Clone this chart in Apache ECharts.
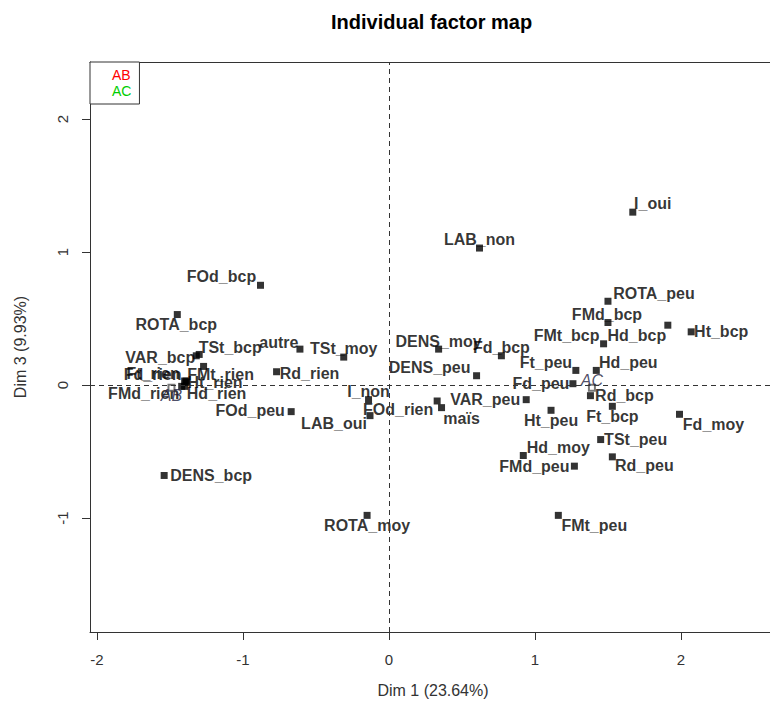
<!DOCTYPE html>
<html>
<head>
<meta charset="utf-8">
<script src="https://cdn.jsdelivr.net/npm/echarts@6/dist/echarts.min.js"></script>
<style>
  html, body { margin: 0; padding: 0; background: #fff; overflow: hidden; }
  #chart { width: 770px; height: 707px; }
</style>
</head>
<body>
<div id="chart"></div>
<script>
// ---- data ----
const categories = [
  'I_oui', 'LAB_non', 'ROTA_peu', 'FMd_bcp', 'Hd_bcp', 'FMt_bcp', 'Ht_bcp', 'Fd_bcp',
  'DENS_moy', 'DENS_peu', 'Ft_peu', 'Hd_peu', 'Fd_peu', 'Rd_bcp', 'Ft_bcp', 'Fd_moy',
  'Ht_peu', 'VAR_peu', 'TSt_peu', 'Rd_peu', 'Hd_moy', 'FMd_peu', 'FMt_peu', 'maïs',
  'FOd_rien', 'I_non', 'LAB_oui', 'FOd_peu', 'TSt_moy', 'autre', 'Rd_rien', 'ROTA_bcp',
  'FOd_bcp', 'DENS_bcp', 'ROTA_moy', 'VAR_bcp', 'TSt_bcp', 'FMt_rien', 'Ht_rien',
  'Fd_rien', 'Ft_rien', 'Hd_rien', 'FMd_rien'
];
const dim1 = [
  1.67, 0.62, 1.50, 1.50, 1.91, 1.47, 2.07, 0.77,
  0.34, 0.60, 1.28, 1.42, 1.26, 1.38, 1.53, 1.99,
  1.11, 0.94, 1.45, 1.53, 0.92, 1.27, 1.16, 0.36,
  0.33, -0.14, -0.13, -0.67, -0.31, -0.61, -0.77, -1.45,
  -0.88, -1.54, -0.15, -1.32, -1.30, -1.27, -1.39,
  -1.40, -1.39, -1.40, -1.42
];
const dim3 = [
  1.30, 1.03, 0.63, 0.47, 0.45, 0.31, 0.40, 0.22,
  0.27, 0.07, 0.11, 0.11, 0.01, -0.08, -0.16, -0.22,
  -0.19, -0.11, -0.41, -0.54, -0.53, -0.61, -0.98, -0.17,
  -0.12, -0.11, -0.23, -0.20, 0.21, 0.27, 0.10, 0.53,
  0.75, -0.68, -0.98, 0.22, 0.23, 0.14, 0.02,
  0.03, 0.03, -0.01, -0.01
];
const supNames = ['AB', 'AC'];
const supDim1 = [-1.49, 1.39];
const supDim3 = [-0.02, -0.02];
const xTicks = [-2, -1, 0, 1, 2];
const yTicks = [-1, 0, 1, 2];
const titleText = 'Individual factor map';
const xName = 'Dim 1 (23.64%)';
const yName = 'Dim 3 (9.93%)';

// ---- label layout (pixel offsets of label centre from its point) ----
const labelOffset = {
  I_oui: [20, -9], LAB_non: [0, -9], ROTA_peu: [46, -8], FMd_bcp: [-1, -8],
  Hd_bcp: [-31, 10], FMt_bcp: [-37, -8], Ht_bcp: [30, 0], Fd_bcp: [0, -8],
  DENS_moy: [0, -8], DENS_peu: [-47, -8], Ft_peu: [-30, -8], Hd_peu: [32, -8],
  Fd_peu: [-32, 0], Rd_bcp: [34, 0], Ft_bcp: [0, 10], Fd_moy: [34, 10],
  Ht_peu: [0, 10], VAR_peu: [-41, 0], TSt_peu: [35, 0], Rd_peu: [32, 9],
  Hd_moy: [35, -8], FMd_peu: [-40, 0], FMt_peu: [36, 10], 'maïs': [20, 11],
  FOd_rien: [-39, 9], I_non: [0, -8], LAB_oui: [-36, 8], FOd_peu: [-41, -1],
  TSt_moy: [0, -9], autre: [-21, -7], Rd_rien: [33, 2], ROTA_bcp: [-1, 10],
  FOd_bcp: [-39, -9], DENS_bcp: [47, 0], ROTA_moy: [0, 10], VAR_bcp: [-36, 2],
  TSt_bcp: [31, -7], FMt_rien: [17, 8], Ht_rien: [29, 0], Fd_rien: [-32, -7],
  Ft_rien: [-33, -8], Hd_rien: [32, 7], FMd_rien: [-38, 7],
  AB: [0, 8], AC: [0, -7]
};

const FONT = "'Liberation Sans', Arial, sans-serif";
const X_MIN = -2.048, X_MAX = 2.651, Y_MIN = -1.857, Y_MAX = 2.429;

const mainData = categories.map((n, i) => ({
  name: n,
  value: [dim1[i], dim3[i]],
  label: { offset: labelOffset[n] || [0, -8] }
}));

const supSeries = supNames.map((n, i) => ({
  name: n,
  type: 'scatter',
  symbol: 'emptyRect',
  symbolSize: 6,
  itemStyle: { color: '#555', borderColor: '#555', borderWidth: 1 },
  z: 3,
  data: [{ name: n, value: [supDim1[i], supDim3[i]], label: { offset: labelOffset[n] } }],
  label: {
    show: true, formatter: '{b}', position: 'inside',
    fontFamily: FONT, fontSize: 16, fontStyle: 'italic', color: '#202040'
  },
  emphasis: { disabled: true }
}));

const chart = echarts.init(document.getElementById('chart'), null, { renderer: 'svg' });
chart.setOption({
  animation: false,
  backgroundColor: '#fff',
  title: {
    text: titleText,
    left: 331, top: 12, padding: 0,
    textStyle: { fontFamily: FONT, fontSize: 20, fontWeight: 'bold', color: '#000' }
  },
  legend: {
    orient: 'vertical',
    left: 90, top: 62,
    padding: [6, 8, 6, 16],
    itemGap: 2,
    itemWidth: 0, itemHeight: 0,
    borderColor: '#333', borderWidth: 1,
    backgroundColor: '#fff',
    textStyle: { fontFamily: FONT, fontSize: 14 },
    data: [
      { name: 'AB', textStyle: { color: '#FF0000' } },
      { name: 'AC', textStyle: { color: '#00CD00' } }
    ]
  },
  grid: {
    left: 90, top: 62, width: 686, height: 570,
    outerBoundsMode: 'none',
    containLabel: false,
    show: false
  },
  xAxis: [
    {
      type: 'value',
      min: X_MIN, max: X_MAX,
      axisLine: { show: true, onZero: false, lineStyle: { color: '#333', width: 1 } },
      axisTick: { show: true, length: 8, customValues: xTicks, lineStyle: { color: '#333' } },
      axisLabel: { customValues: xTicks, margin: 20, fontFamily: FONT, fontSize: 15, color: '#333' },
      splitLine: { show: false },
      name: xName, nameLocation: 'middle', nameGap: 50,
      nameTextStyle: { fontFamily: FONT, fontSize: 16, color: '#333' }
    },
    {
      type: 'value',
      position: 'top',
      min: X_MIN, max: X_MAX,
      axisLine: { show: true, onZero: false, lineStyle: { color: '#333', width: 1 } },
      axisTick: { show: false },
      axisLabel: { show: false },
      splitLine: { show: false }
    }
  ],
  yAxis: {
    type: 'value',
    min: Y_MIN, max: Y_MAX,
    axisLine: { show: true, onZero: false, lineStyle: { color: '#333', width: 1 } },
    axisTick: { show: true, length: 8, customValues: yTicks, lineStyle: { color: '#333' } },
    axisLabel: { customValues: yTicks, rotate: 90, margin: 20, fontFamily: FONT, fontSize: 15, color: '#333' },
    splitLine: { show: false },
    name: yName, nameLocation: 'middle', nameGap: 62,
    nameTextStyle: { fontFamily: FONT, fontSize: 16, color: '#333' }
  },
  series: [
    {
      name: 'categories',
      type: 'scatter',
      symbol: 'rect',
      symbolSize: 7,
      itemStyle: { color: '#000' },
      z: 2,
      data: mainData,
      label: {
        show: true, formatter: '{b}', position: 'inside',
        fontFamily: FONT, fontSize: 16, fontWeight: 'bold', color: '#000'
      },
      emphasis: { disabled: true },
      markLine: {
        silent: true,
        symbol: 'none',
        label: { show: false },
        lineStyle: { type: [5, 4], color: '#333', width: 1 },
        data: [{ xAxis: 0 }, { yAxis: 0 }]
      }
    }
  ].concat(supSeries)
});
</script>
</body>
</html>
